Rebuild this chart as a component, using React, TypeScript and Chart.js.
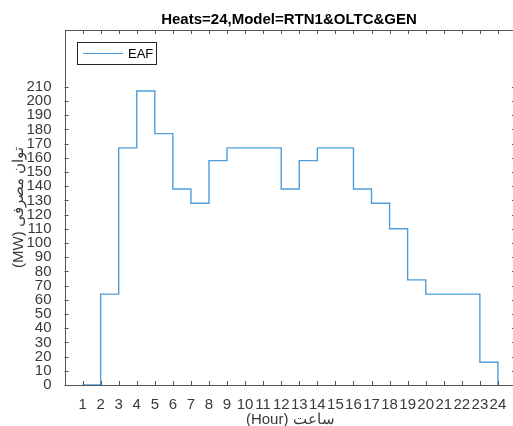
import React, { useEffect, useRef } from "react";
import { Chart, registerables } from "chart.js";

Chart.register(...registerables);

const hours = [1, 2, 3, 4, 5, 6, 7, 8, 9, 10, 11, 12, 13, 14, 15, 16, 17, 18, 19, 20, 21, 22, 23, 24];
const eafMW = [0, 64, 167, 207, 177, 138, 128, 158, 167, 167, 167, 138, 158, 167, 167, 138, 128, 110, 74, 64, 64, 64, 16, 0];
const xTickValues = [1, 2, 3, 4, 5, 6, 7, 8, 9, 10, 11, 12, 13, 14, 15, 16, 17, 18, 19, 20, 21, 22, 23, 24];
const yTickValues = [0, 10, 20, 30, 40, 50, 60, 70, 80, 90, 100, 110, 120, 130, 140, 150, 160, 170, 180, 190, 200, 210];
const chartTitle = "Heats=24,Model=RTN1&OLTC&GEN";
const xTitle = "(Hour) ساعت";
const yTitle = "(MW) توان مصرفی";
const seriesName = "EAF";

const FONT = "'Liberation Sans', Arial, Helvetica, sans-serif";
const LINE_COLOR = "#4f9edb";
const AXIS_COLOR = "#262626";
const TICK_COLOR = "#3a3a3a";

const matlabPlugin = {
  id: "matlabBox",
  afterDraw(chart: any) {
    const { ctx, chartArea } = chart;
    const { left, right, top, bottom } = chartArea;
    const xs = chart.scales.x;
    const ys = chart.scales.y;
    ctx.save();
    ctx.strokeStyle = "#555";
    ctx.lineWidth = 1;
    const tl = 4;
    ctx.beginPath();
    for (const v of xTickValues) {
      const px = Math.round(xs.getPixelForValue(v)) + 0.5;
      ctx.moveTo(px, bottom);
      ctx.lineTo(px, bottom - tl);
      ctx.moveTo(px, top);
      ctx.lineTo(px, top + tl);
    }
    for (const v of yTickValues) {
      const py = Math.round(ys.getPixelForValue(v)) + 0.5;
      ctx.moveTo(left, py);
      ctx.lineTo(left + tl, py);
      ctx.moveTo(right, py);
      ctx.lineTo(right - tl, py);
    }
    ctx.stroke();
    ctx.strokeRect(Math.round(left) + 0.5, Math.round(top) + 0.5, Math.round(right - left), Math.round(bottom - top));

    // title
    ctx.fillStyle = "#000";
    ctx.font = `bold 15px ${FONT}`;
    ctx.textAlign = "center";
    ctx.textBaseline = "alphabetic";
    ctx.fillText(chartTitle, 289, 24);

    // legend
    const lx = 77.5, ly = 42.5, lw = 79, lh = 22;
    ctx.fillStyle = "#fff";
    ctx.fillRect(lx, ly, lw, lh);
    ctx.strokeStyle = AXIS_COLOR;
    ctx.strokeRect(lx, ly, lw, lh);
    ctx.strokeStyle = LINE_COLOR;
    ctx.lineWidth = 1.2;
    ctx.beginPath();
    ctx.moveTo(83, 53.5);
    ctx.lineTo(123, 53.5);
    ctx.stroke();
    ctx.fillStyle = "#000";
    ctx.font = `13px ${FONT}`;
    ctx.textAlign = "left";
    ctx.textBaseline = "middle";
    ctx.fillText(seriesName, 128, 54);
    ctx.restore();
  },
};

export default function App() {
  const ref = useRef<HTMLCanvasElement>(null);
  useEffect(() => {
    document.body.style.margin = "0";
    document.body.style.overflow = "hidden";
    const canvas = ref.current!;
    const chart = new Chart(canvas, {
      type: "line",
      data: {
        datasets: [
          {
            label: seriesName,
            data: hours.map((h, i) => ({ x: h, y: eafMW[i] })),
            borderColor: LINE_COLOR,
            borderWidth: 1.4,
            pointRadius: 0,
            stepped: true,
            fill: false,
          },
        ],
      },
      options: {
        animation: false,
        responsive: false,
        maintainAspectRatio: false,
        layout: { padding: { left: 0, right: 4, top: 30, bottom: 0 } },
        plugins: {
          legend: { display: false },
          title: { display: false },
          tooltip: { enabled: false },
        },
        scales: {
          x: {
            type: "linear",
            min: 0,
            max: 25,
            afterBuildTicks: (s: any) => {
              s.ticks = xTickValues.map((v) => ({ value: v }));
            },
            afterFit: (s: any) => {
              s.height = 41;
            },
            grid: { display: false },
            border: { display: false },
            ticks: {
              autoSkip: false,
              maxRotation: 0,
              padding: 3,
              color: TICK_COLOR,
              font: { family: FONT, size: 15 },
              callback: (v: any) => String(v),
            },
            title: {
              display: true,
              text: xTitle,
              color: TICK_COLOR,
              font: { family: FONT, size: 15 },
              padding: { top: 0, bottom: -3 },
            },
          },
          y: {
            type: "linear",
            min: 0,
            max: 250,
            afterBuildTicks: (s: any) => {
              s.ticks = yTickValues.map((v) => ({ value: v }));
            },
            afterFit: (s: any) => {
              s.width = 64.5;
            },
            grid: { display: false },
            border: { display: false },
            ticks: {
              autoSkip: false,
              padding: 5,
              color: TICK_COLOR,
              font: { family: FONT, size: 15 },
              callback: (v: any) => String(v),
            },
            title: {
              display: true,
              text: yTitle,
              color: TICK_COLOR,
              font: { family: FONT, size: 15 },
              padding: { top: 10, bottom: 0 },
            },
          },
        },
      },
      plugins: [matlabPlugin],
    } as any);
    return () => chart.destroy();
  }, []);
  return (
    <div style={{ position: "absolute", left: 0, top: 0, width: 520, height: 426 }}>
      <canvas ref={ref} width={520} height={426} style={{ display: "block" }} />
    </div>
  );
}
